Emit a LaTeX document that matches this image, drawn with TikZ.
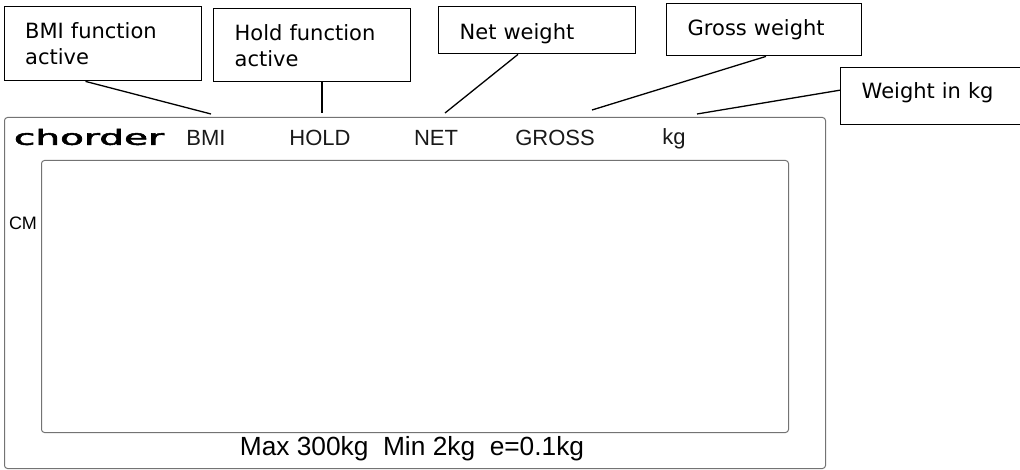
\documentclass[tikz,border=0pt]{standalone}
\usepackage{fontspec}
\setmainfont{Liberation Sans}
\newfontfamily\calloutfont{DejaVu Sans}
\newfontfamily\logofont[FakeBold=2]{DejaVu Sans}
\usepackage{tikz}

\tikzset{
    callout/.style={draw=black, line width=1.4pt, anchor=north west, align=left, inner xsep=21pt, inner ysep=0pt,
        font=\calloutfont\fontsize{21}{26}\selectfont},
    leader/.style={draw=black, line width=1.3pt},
    panel/.style={draw=black!55, line width=1pt, rounded corners=3pt, anchor=north west, inner sep=0pt},
    flag/.style={font=\fontsize{22}{26}\selectfont, text=black!90}
}

\begin{document}
\begin{tikzpicture}[x=1pt, y=-1pt]

    \useasboundingbox (0,0) rectangle (1020,470);

    \node[panel, minimum width=821pt, minimum height=351pt] (outer) at (4,117) {};
    \node[panel, minimum width=747pt, minimum height=272pt] (screen) at (41,160) {};

    \node[inner sep=0pt] (logo) at (89,137) {\logofont\scalebox{1.95}[1.05]{\fontsize{20}{24}\selectfont chorder}};
    \node[flag] (bmi) at (206,138) {BMI};
    \node[flag] (hold) at (320,138) {HOLD};
    \node[flag] (net) at (436,138) {NET};
    \node[flag] (gross) at (555,138) {GROSS};
    \node[flag] (kg) at (674,139) {kg};
    \node[font=\fontsize{18}{20}\selectfont] (cm) at (23,223) {CM};
    \node[font=\fontsize{26.3}{30}\selectfont] (limits) at (412,449) {Max 300kg\ \ Min 2kg\ \ e=0.1kg};

    \node[callout, text width=155pt, minimum height=74pt] (boxbmi) at (3.5,6) {BMI function\\active};
    \node[callout, text width=155pt, minimum height=73pt] (boxhold) at (213,8) {Hold function\\active};
    \node[callout, text width=155pt, minimum height=47pt] (boxnet) at (438,6) {\rule{0pt}{22pt}Net weight};
    \node[callout, text width=153pt, minimum height=52pt] (boxgross) at (666,3) {Gross weight};
    \node[callout, text width=148pt, minimum height=57pt] (boxkg) at (840,67) {\rule[-11pt]{0pt}{1pt}Weight in kg};

    \coordinate (tipbmi) at (211,114);
    \coordinate (tiphold) at (322,113);
    \coordinate (tipnet) at (445,113);
    \coordinate (tipgross) at (592,110);
    \coordinate (tipkg) at (697,114);

    \draw[leader] ([xshift=82pt]boxbmi.south west) -- (tipbmi);
    \draw[leader] (boxhold.south -| tiphold) -- (tiphold);
    \draw[leader] ([xshift=80pt]boxnet.south west) -- (tipnet);
    \draw[leader] ([xshift=100pt]boxgross.south west) -- (tipgross);
    \draw[leader] ([yshift=6pt]boxkg.west) -- (tipkg);

\end{tikzpicture}
\end{document}
